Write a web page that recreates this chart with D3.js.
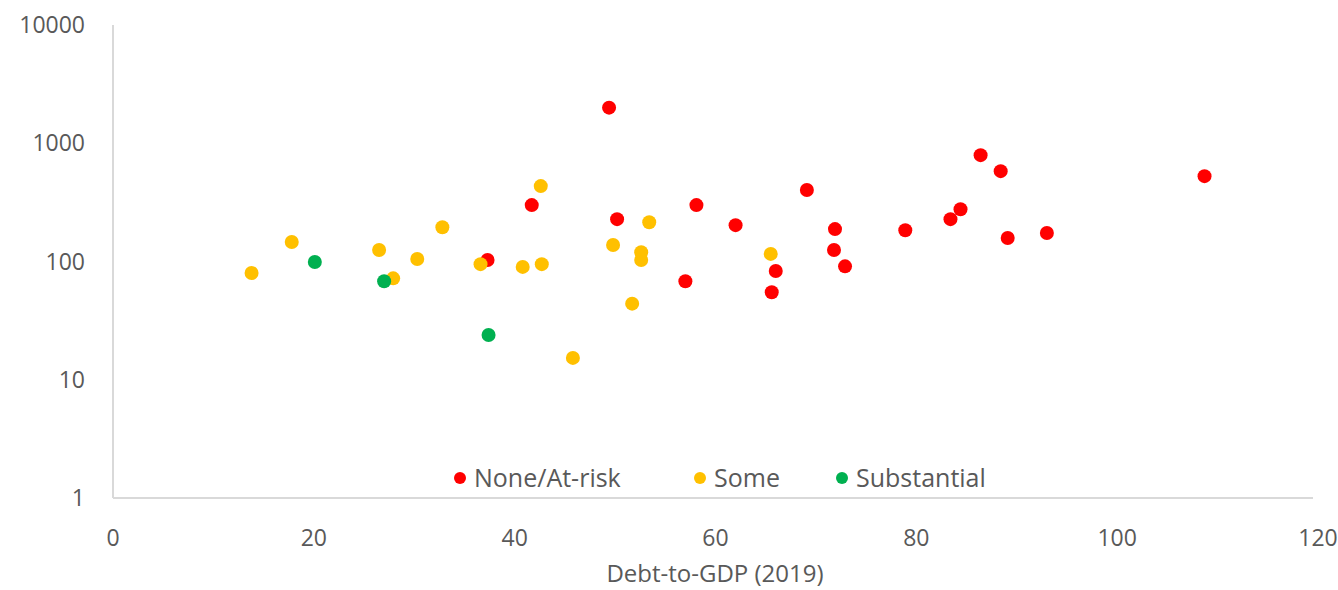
<!DOCTYPE html>
<html>
<head>
<meta charset="utf-8">
<script src="https://cdnjs.cloudflare.com/ajax/libs/d3/7.8.5/d3.min.js"></script>
<style>
  body { margin: 0; background: #fff; }
  svg { display: block; font-family: "Open Sans", sans-serif; }
  .tick-label { fill: #595959; font-size: 23px; }
  .legend-text { fill: #595959; font-size: 25px; }
  .axis-label { fill: #595959; font-size: 24px; }
</style>
</head>
<body>
<svg id="chart" width="1338" height="590"></svg>
<script>
// data: [debt-to-GDP, value]
const noneAtRisk = [
  [49.4, 2000], [41.7, 300], [37.3, 103], [50.2, 228], [58.1, 300],
  [62.0, 203], [57.0, 68], [69.1, 402], [71.9, 188], [71.8, 125],
  [66.0, 83], [65.6, 55], [72.9, 91], [78.9, 184], [83.4, 228],
  [84.4, 277], [86.4, 793], [88.4, 581], [89.1, 158], [93.0, 174],
  [108.7, 527]
];
const some = [
  [13.8, 80], [17.8, 146], [26.5, 125], [27.9, 72], [30.3, 105],
  [32.8, 195], [36.6, 95], [40.8, 90], [42.7, 95], [42.6, 434],
  [49.8, 138], [53.4, 215], [52.6, 120], [52.6, 103], [51.7, 44],
  [45.8, 15.3], [65.5, 116]
];
const substantial = [
  [20.1, 99], [27.0, 68], [37.4, 23.9]
];
const seriesNames = ["None/At-risk", "Some", "Substantial"];
const seriesColors = ["#ff0000", "#ffc000", "#00b050"];
const xTicks = [0, 20, 40, 60, 80, 100, 120];
const yTicks = [1, 10, 100, 1000, 10000];

const svg = d3.select('#chart');
const plotLeft = 113, plotRight = 1318, plotTop = 25, plotBottom = 498;

const x = d3.scaleLinear().domain([0, 120]).range([plotLeft, plotRight]);
const y = d3.scaleLog().domain([1, 10000]).range([plotBottom, plotTop]);

// axis lines
svg.append('line')
  .attr('x1', plotLeft).attr('x2', plotLeft)
  .attr('y1', y(10000)).attr('y2', y(1))
  .attr('stroke', '#d9d9d9').attr('stroke-width', 2);
svg.append('line')
  .attr('x1', plotLeft).attr('x2', plotRight - 5)
  .attr('y1', y(1)).attr('y2', y(1))
  .attr('stroke', '#d9d9d9').attr('stroke-width', 2);

// y tick labels
svg.selectAll('.ylab').data(yTicks).enter().append('text')
  .attr('class', 'tick-label')
  .attr('x', 85)
  .attr('y', d => y(d))
  .attr('dy', '0.35em')
  .attr('text-anchor', 'end')
  .text(d => d);

// x tick labels
svg.selectAll('.xlab').data(xTicks).enter().append('text')
  .attr('class', 'tick-label')
  .attr('x', d => x(d))
  .attr('y', 538)
  .attr('dy', '0.35em')
  .attr('text-anchor', 'middle')
  .text(d => d);

// x axis title
svg.append('text')
  .attr('class', 'axis-label')
  .attr('x', 715)
  .attr('y', 574)
  .attr('dy', '0.35em')
  .attr('text-anchor', 'middle')
  .text('Debt-to-GDP (2019)');

// points, drawn in series order
[noneAtRisk, some, substantial].forEach(function (series, i) {
  svg.append('g').selectAll('circle').data(series).enter().append('circle')
    .attr('cx', d => x(d[0]))
    .attr('cy', d => y(d[1]))
    .attr('r', 7)
    .attr('fill', seriesColors[i]);
});

// legend
const legendX = [460, 700, 842];
seriesNames.forEach(function (name, i) {
  svg.append('circle')
    .attr('cx', legendX[i])
    .attr('cy', 478)
    .attr('r', 6)
    .attr('fill', seriesColors[i]);
  svg.append('text')
    .attr('class', 'legend-text')
    .attr('x', legendX[i] + 14)
    .attr('y', 478)
    .attr('dy', '0.35em')
    .text(name);
});
</script>
</body>
</html>
